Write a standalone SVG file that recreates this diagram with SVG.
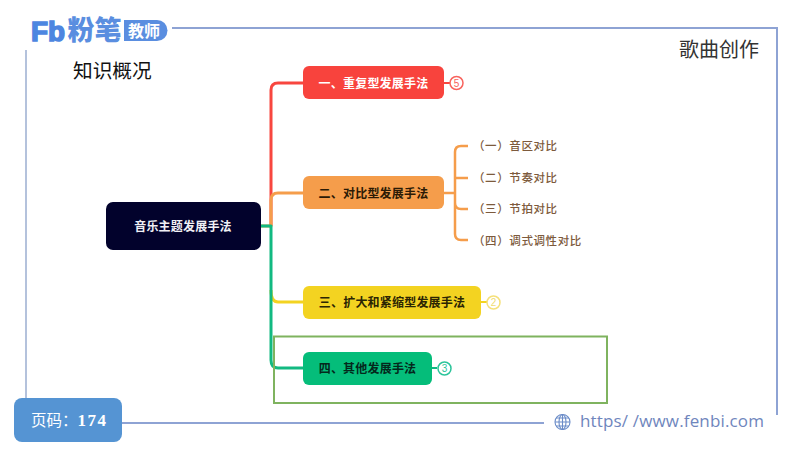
<svg xmlns="http://www.w3.org/2000/svg" width="800" height="450" viewBox="0 0 800 450">
<style>
text{font-family:"Noto Sans CJK SC","Liberation Sans",sans-serif}
.n{font-size:12px;font-weight:700;text-anchor:middle;letter-spacing:.2px}
.s{font-size:11.500px;font-weight:500;fill:#7d5a3c;letter-spacing:.6px}
.c{fill:none;stroke-width:3;stroke-linejoin:round}
.b{fill:#fff;stroke-width:1.500}
.bt{font-size:10px;text-anchor:middle;font-family:"Liberation Sans",sans-serif}
.f{fill:none;stroke-width:2}
</style>
<rect width="800" height="450" fill="#fff"/>
<g id="frame">
<path class="f" d="M172 28H777V415" stroke="#8ea3d4"/>
<path class="f" d="M26 50V398" stroke="#b4c2dc"/>
<path class="f" d="M122 423H544" stroke="#8ea3d4"/>
</g>
<g id="logo">
<text x="31" y="41" font-size="27" font-weight="900" fill="#4d86e0" stroke="#4d86e0" stroke-width="1.500" textLength="34" lengthAdjust="spacingAndGlyphs" style="font-family:'Liberation Sans',sans-serif">Fb</text>
<text x="67.500" y="40" font-size="27" font-weight="900" fill="#5a8ee0" letter-spacing="0">粉笔</text>
<path d="M124 20H157A10.500 10.500 0 0 1 157 41H124Z" fill="#5a8ee0"/>
<text x="128" y="36.500" font-size="16" font-weight="700" fill="#fff" letter-spacing="0">教师</text>
</g>
<text id="title-left" x="73" y="78" font-size="19.700" fill="#111">知识概况</text>
<text id="title-right" x="679" y="57" font-size="20" fill="#333">歌曲创作</text>
<g id="connectors">
<path class="c" stroke="#f8463f" d="M271 226V90Q271 83 278 83H303"/>
<path class="c" stroke="#f59d4b" d="M261 226H271V200Q271 193 278 193H303"/>
<path class="c" stroke="#f3d321" d="M271 290Q271 302 278 302H303"/>
<path class="c" stroke="#12b981" d="M261 226H271V360Q271 368 278 368H303"/>
<path class="c" stroke="#f59d4b" d="M444 193H455M455 193V152Q455 146 461 146H468M455 178H468M455 193V203Q455 209 461 209H468M455 203V234Q455 240 461 240H468" style="stroke-width:2.500"/>
<path class="c" stroke="#f8463f" d="M444 83H450" style="stroke-width:2"/>
<path class="c" stroke="#f3d321" d="M481 302H487" style="stroke-width:2"/>
<path class="c" stroke="#12b981" d="M432 368H437" style="stroke-width:2"/>
</g>
<g id="root"><rect x="106" y="202" width="155" height="48" rx="7" fill="#02022c"/><text class="n" x="183" y="231" fill="#f0f0f5">音乐主题发展手法</text></g>
<g id="n1"><rect x="303" y="66" width="141" height="33" rx="6" fill="#f8433d"/><text class="n" x="373.500" y="88" fill="#fff">一、重复型发展手法</text>
<circle class="b" cx="456.500" cy="83" r="6.500" stroke="#f8635d"/><text class="bt" x="456.500" y="86.500" fill="#f8635d">5</text></g>
<g id="n2"><rect x="303" y="176" width="141" height="33" rx="6" fill="#f59d4b"/><text class="n" x="373.500" y="198" fill="#2b1a05">二、对比型发展手法</text></g>
<g id="s1"><text class="s" x="473" y="150">（一）音区对比</text></g>
<g id="s2"><text class="s" x="473" y="182">（二）节奏对比</text></g>
<g id="s3"><text class="s" x="473" y="213">（三）节拍对比</text></g>
<g id="s4"><text class="s" x="473" y="245">（四）调式调性对比</text></g>
<g id="n3"><rect x="303" y="286" width="178" height="33" rx="6" fill="#f3d321"/><text class="n" x="392" y="307" fill="#2b2503">三、扩大和紧缩型发展手法</text>
<circle class="b" cx="493.500" cy="302.500" r="6.500" stroke="#f5e07a"/><text class="bt" x="493.500" y="306" fill="#f0dc70">2</text></g>
<g id="n4"><rect x="303" y="352" width="129" height="33" rx="6" fill="#05bd7a"/><text class="n" x="367.500" y="373" fill="#04281c">四、其他发展手法</text>
<circle class="b" cx="444.500" cy="368.500" r="6.500" stroke="#2cc49a"/><text class="bt" x="444.500" y="372" fill="#2cc49a">3</text></g>
<rect id="highlight" x="274" y="336.500" width="333" height="66.500" fill="none" stroke="#7fb35f" stroke-width="2"/>
<g id="page"><rect x="14" y="398" width="108" height="44" rx="8" fill="#5594d3"/><text x="31" y="426" font-size="15.500" fill="#fff">页码：<tspan font-size="17" font-weight="700" letter-spacing="1.500" style="font-family:'Liberation Serif',serif">174</tspan></text></g>
<g id="url">
<g fill="none" stroke="#6b8cc8" stroke-width="1.100"><circle cx="562.500" cy="422" r="7.500"/><ellipse cx="562.500" cy="422" rx="3.500" ry="7.500"/><path d="M555 422H570M556 418H569M556 426H569M562.500 414.500V429.500"/></g>
<text x="580" y="427" font-size="17" fill="#6f86bd" textLength="184" style="font-family:'Open Sans',sans-serif">https/ /www.fenbi.com</text>
</g>
</svg>
